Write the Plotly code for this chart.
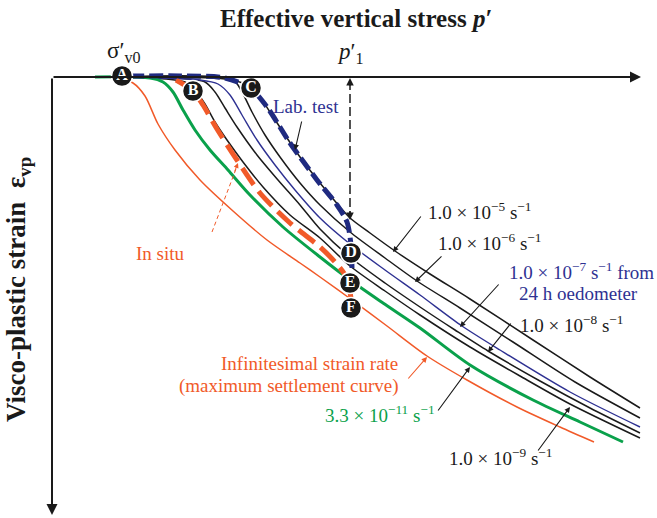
import plotly.graph_objects as go

# Schematic units: origin at the corner of the axes,
# effective vertical stress increases to the right, visco-plastic strain downward.

# Infinitesimal strain rate (maximum settlement curve)
stress_inf = [33, 66, 81, 93, 106, 123, 148, 181, 215, 248, 268, 300, 335, 375, 415, 465, 508, 542]
strain_inf = [0, 1, 6, 19, 47, 73, 103, 134, 163, 186, 200, 223, 249, 279, 303, 330, 350, 365]

# 3.3e-11 1/s
stress_r11 = [43, 98, 111, 121, 131, 143, 158, 176, 198, 231, 268, 298, 331, 368, 418, 481, 528, 571]
strain_r11 = [0, 1, 5, 15, 33, 53, 73, 93, 118, 150, 180, 203, 226, 251, 288, 323, 345, 365]

# 1.0e-9 1/s
stress_r9 = [48, 98, 133, 143, 153, 163, 175, 191, 211, 238, 268, 298, 333, 368, 418, 468, 518, 588]
strain_r9 = [0, 1, 5, 13, 27, 45, 63, 85, 110, 138, 161, 189, 214, 238, 270, 299, 327, 361]

# 1.0e-8 1/s
stress_r8 = [58, 118, 153, 163, 173, 185, 205, 226, 248, 268, 298, 333, 368, 403, 436, 488, 538, 588]
strain_r8 = [0, 1, 5, 15, 31, 50, 78, 103, 128, 152, 180, 206, 230, 253, 274, 304, 331, 356]

# 1.0e-7 1/s (24 h oedometer)
stress_r7 = [58, 148, 166, 178, 190, 205, 223, 243, 268, 298, 333, 368, 410, 448, 518, 588]
strain_r7 = [0, 3, 7, 18, 38, 63, 88, 113, 141, 167, 193, 218, 249, 273, 315, 350]

# 1.0e-6 1/s
stress_r6 = [68, 181, 190, 200, 213, 228, 248, 268, 298, 333, 365, 408, 461, 523, 588]
strain_r6 = [0, 3, 15, 35, 58, 80, 106, 128, 155, 181, 204, 231, 265, 305, 341]

# 1.0e-5 1/s
stress_r5 = [78, 173, 193, 205, 218, 233, 248, 268, 288, 298, 318, 343, 378, 418, 481, 538, 588]
strain_r5 = [0, 2, 7, 16, 35, 58, 80, 106, 130, 141, 156, 174, 197, 222, 263, 300, 331]

# Laboratory test path A-C-D
stress_lab = [78, 128, 173, 198, 215, 238, 265, 285, 295, 299, 300]
strain_lab = [-1, -1, 1, 11, 30, 66, 103, 128, 145, 168, 191]

# In situ path B-E-F
stress_situ = [124, 141, 151, 165, 185, 208, 238, 268, 283, 293, 298, 300]
strain_situ = [3, 14, 28, 52, 83, 116, 146, 170, 185, 198, 215, 231]

# Key states
point_names = ["A", "B", "C", "D", "E", "F"]
point_stress = [70, 141, 199, 299, 298, 299]
point_strain = [-1, 14, 11, 176, 206, 231]

SERIF = "Liberation Serif"
BLACK = "#1a1a1a"
ORANGE = "#f15a29"
GREEN = "#0aa14b"
BLUE = "#2e3192"
NAVY = "#1f2a80"
LABEL_SIZE = 19

fig = go.Figure()


def curve(x, y, color, width, dash="solid"):
    fig.add_trace(go.Scatter(
        x=x, y=y, mode="lines",
        line=dict(color=color, width=width, dash=dash, shape="spline", smoothing=0.8),
        hoverinfo="skip", showlegend=False,
    ))


curve(stress_inf, strain_inf, ORANGE, 1.5)
curve(stress_r9, strain_r9, BLACK, 1.5)
curve(stress_r8, strain_r8, BLACK, 1.5)
curve(stress_r7, strain_r7, BLUE, 1.4)
curve(stress_r6, strain_r6, BLACK, 1.5)
curve(stress_r5, strain_r5, BLACK, 1.5)
curve(stress_r11, strain_r11, GREEN, 3)
curve(stress_situ, strain_situ, ORANGE, 5, "20px,8px")
curve(stress_lab, strain_lab, NAVY, 5, "14px,5px")

fig.add_trace(go.Scatter(
    x=point_stress, y=point_strain, mode="markers+text",
    text=[f"<b>{n}</b>" for n in point_names],
    textposition="middle center",
    textfont=dict(family=SERIF, size=16, color="white"),
    marker=dict(size=21, color=BLACK, line=dict(color="white", width=1.5)),
    hoverinfo="skip", showlegend=False,
))

annotations = []


def label(x, y, text, color=BLACK, size=LABEL_SIZE, xanchor="center"):
    annotations.append(dict(
        x=x, y=y, xref="x", yref="y", text=text, showarrow=False,
        xanchor=xanchor, yanchor="middle",
        font=dict(family=SERIF, size=size, color=color),
    ))


def arrow(x0, y0, x1, y1, color=BLACK, width=1.1, head=2, size=1.0):
    annotations.append(dict(
        x=x1, y=y1, ax=x0, ay=y0, xref="x", yref="y", axref="x", ayref="y",
        text="", showarrow=True, arrowhead=head, arrowsize=size,
        arrowwidth=width, arrowcolor=color, standoff=0, startstandoff=0,
    ))


# Axes
arrow(0, 0, 589, 0, BLACK, 2, 2, 1.1)
arrow(0, 0, 0, 438, BLACK, 2, 2, 1.1)

# Stress increment up to p'1
fig.add_shape(type="line", x0=298, y0=4, x1=298, y1=139, xref="x", yref="y",
              line=dict(color=BLACK, width=1.5, dash="9px,4px"))
arrow(298, 10, 298, 1, BLACK, 1.5, 2, 1.0)
arrow(298, 133, 298, 143, BLACK, 1.5, 2, 1.0)

# In situ pointer (dashed)
fig.add_shape(type="line", x0=160, y0=155, x1=184, y1=92, xref="x", yref="y",
              line=dict(color=ORANGE, width=1, dash="4px,3px"))
arrow(182, 96, 186, 86, ORANGE, 1, 2, 1.0)

# Titles
label(304, -59, "<b>Effective vertical stress <i>p</i>′</b>", BLACK, 25)
annotations.append(dict(
    x=-34, y=213, xref="x", yref="y", text="<b>Visco-plastic strain  ε<sub>vp</sub></b>",
    showarrow=False, textangle=-90, font=dict(family=SERIF, size=27, color=BLACK),
))
label(72, -25, "σ′<sub>v0</sub>", BLACK, 23)
label(298, -24, "<i>p</i>′<sub>1</sub>", BLACK, 23)

# Curve labels
label(254, 29, "Lab. test", BLUE)
arrow(250, 43, 243, 73)
label(108, 176, "In situ", ORANGE)
label(427, 134, "1.0 × 10<sup>−5</sup> s<sup>−1</sup>")
arrow(370, 138, 341, 175)
label(437, 165, "1.0 × 10<sup>−6</sup> s<sup>−1</sup>")
arrow(391, 178, 363, 205)
label(529, 194, "1.0 × 10<sup>−7</sup> s<sup>−1</sup> from", BLUE)
label(526, 216, "24 h oedometer", BLUE)
arrow(448, 206, 408, 250)
label(519, 247, "1.0 × 10<sup>−8</sup> s<sup>−1</sup>")
arrow(460, 245, 436, 275)
label(448, 380, "1.0 × 10<sup>−9</sup> s<sup>−1</sup>")
arrow(485, 375, 518, 330)
label(328, 337, "3.3 × 10<sup>−11</sup> s<sup>−1</sup>", GREEN)
arrow(385, 335, 418, 290)
label(348, 286, "Infinitesimal strain rate", ORANGE, LABEL_SIZE, "right")
label(348, 309, "(maximum settlement curve)", ORANGE, LABEL_SIZE, "right")
arrow(355, 303, 375, 280, ORANGE)

fig.update_layout(
    width=657, height=518,
    margin=dict(l=0, r=0, t=0, b=0),
    paper_bgcolor="white", plot_bgcolor="white",
    xaxis=dict(range=[-52, 605], visible=False, fixedrange=True),
    yaxis=dict(range=[441, -77], visible=False, fixedrange=True),
    annotations=annotations,
    showlegend=False,
)

fig.write_html("out.html")
